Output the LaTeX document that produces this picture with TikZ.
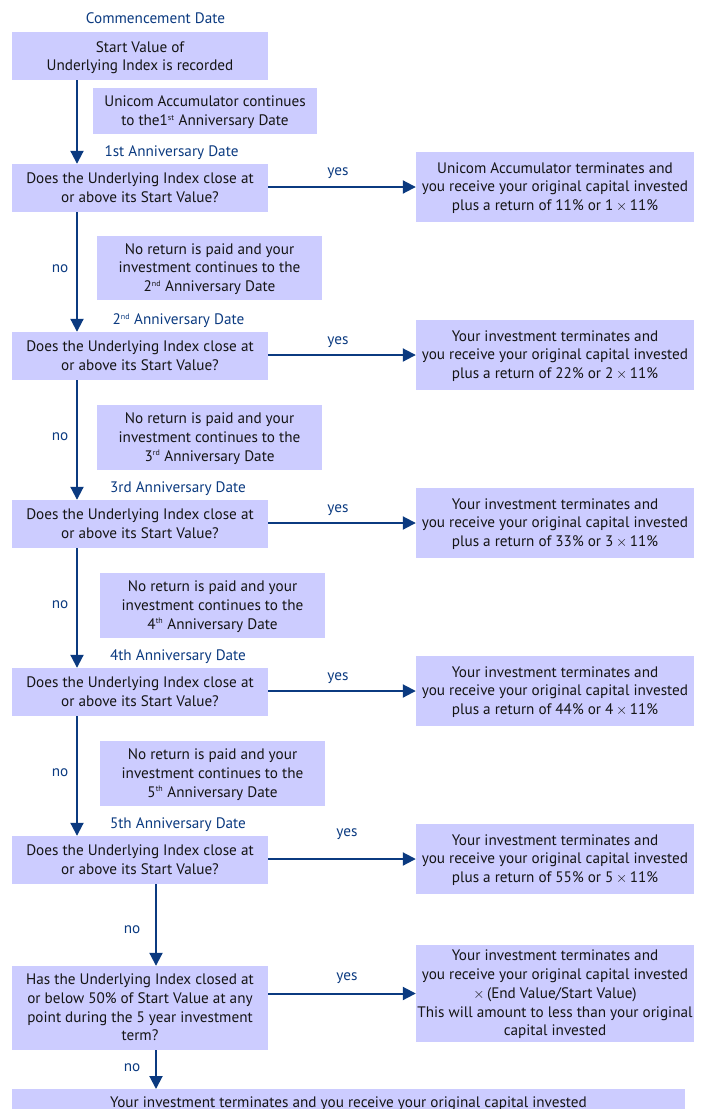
\documentclass[tikz,border=0pt]{standalone}
\usepackage{fontspec}
\setmainfont{PT Sans}
\usetikzlibrary{arrows.meta}
\definecolor{boxc}{HTML}{CCCCFF}
\definecolor{navy}{HTML}{0B3A80}
\definecolor{ink}{HTML}{151515}
\newcommand{\sps}[1]{\textsuperscript{\footnotesize #1}}
\newcommand{\tms}{\,$\times$\,}
\tikzset{
  bx/.style={fill=boxc, inner sep=0pt, align=center, text=ink, font=\fontsize{15.2}{18.7}\selectfont,
    text depth=1pt},
  bxlow/.style={bx, text depth=-2.5pt},
  lab/.style={text=navy, inner sep=0pt, font=\fontsize{15.2}{17}\selectfont},
  arr/.style={draw=navy, line width=2pt, -{Triangle[width=13pt,length=13pt]}},
}
\begin{document}
\begin{tikzpicture}[x=1pt,y=-1pt]
\useasboundingbox (0,0) rectangle (707,1109);
\begin{scope}
\clip (0,0) rectangle (707,1109);
% column coordinates
\coordinate (vx) at (77,0);
\coordinate (wx) at (156,0);

\node[lab] (l0) at (155.5,18) {Commencement Date};
\node[bxlow, minimum width=256pt, minimum height=48pt] (b0) at (140,56) {Start Value of\\Underlying Index is recorded};
\node[bx, minimum width=224pt, minimum height=46pt] (s0) at (205,111) {Unicom Accumulator continues\\to the1\sps{st} Anniversary Date};

% 1
\node[lab] (l1) at (171.5,153) {1st Anniversary Date};
\node[bx, minimum width=256pt, minimum height=48pt] (d1) at (140,188) {Does the Underlying Index close at\\or above its Start Value?};
\node[bx, minimum width=278pt, minimum height=70pt] (r1) at (555,187) {Unicom Accumulator terminates and\\you receive your original capital invested\\plus a return of 11\% or 1\tms11\%};
\node[lab] (y1) at (338,173) {yes};
\node[lab] (n1) at (60,269) {no};
\node[bx, minimum width=225pt, minimum height=64pt] (s1) at (209.5,268) {No return is paid and your\\investment continues to the\\2\sps{nd} Anniversary Date};

% 2
\node[lab] (l2) at (178.5,321) {2\sps{nd} Anniversary Date};
\node[bx, minimum width=256pt, minimum height=48pt] (d2) at (140,356) {Does the Underlying Index close at\\or above its Start Value?};
\node[bx, minimum width=278pt, minimum height=70pt] (r2) at (555,355) {Your investment terminates and\\you receive your original capital invested\\plus a return of 22\% or 2\tms11\%};
\node[lab] (y2) at (338,342) {yes};
\node[lab] (n2) at (60,437) {no};
\node[bx, minimum width=225pt, minimum height=65pt] (s2) at (209.5,437.5) {No return is paid and your\\investment continues to the\\3\sps{rd} Anniversary Date};

% 3
\node[lab] (l3) at (178,489) {3rd Anniversary Date};
\node[bx, minimum width=256pt, minimum height=48pt] (d3) at (140,524) {Does the Underlying Index close at\\or above its Start Value?};
\node[bx, minimum width=278pt, minimum height=70pt] (r3) at (555,523) {Your investment terminates and\\you receive your original capital invested\\plus a return of 33\% or 3\tms11\%};
\node[lab] (y3) at (338,510) {yes};
\node[lab] (n3) at (60,605) {no};
\node[bx, minimum width=225pt, minimum height=65pt] (s3) at (212.5,605.5) {No return is paid and your\\investment continues to the\\4\sps{th} Anniversary Date};

% 4
\node[lab] (l4) at (178,657) {4th Anniversary Date};
\node[bx, minimum width=256pt, minimum height=48pt] (d4) at (140,692) {Does the Underlying Index close at\\or above its Start Value?};
\node[bx, minimum width=278pt, minimum height=70pt] (r4) at (555,691) {Your investment terminates and\\you receive your original capital invested\\plus a return of 44\% or 4\tms11\%};
\node[lab] (y4) at (338,678) {yes};
\node[lab] (n4) at (60,773) {no};
\node[bx, minimum width=225pt, minimum height=65pt] (s4) at (212.5,773.5) {No return is paid and your\\investment continues to the\\5\sps{th} Anniversary Date};

% 5
\node[lab] (l5) at (178,825) {5th Anniversary Date};
\node[bx, minimum width=256pt, minimum height=48pt] (d5) at (140,860) {Does the Underlying Index close at\\or above its Start Value?};
\node[bx, minimum width=278pt, minimum height=70pt] (r5) at (555,859) {Your investment terminates and\\you receive your original capital invested\\plus a return of 55\% or 5\tms11\%};
\node[lab] (y5) at (347,834) {yes};
\node[lab] (n5) at (132,930) {no};

% 6
\node[bx, minimum width=256pt, minimum height=84pt] (d6) at (140,1008) {Has the Underlying Index closed at\\or below 50\% of Start Value at any\\point during the 5 year investment\\term?};
\node[bx, minimum width=278pt, minimum height=97pt] (r6) at (555,993.5) {Your investment terminates and\\you receive your original capital invested\\$\times$\,(End Value/Start Value)\\This will amount to less than your original\\capital invested};
\node[lab] (y6) at (347,978) {yes};
\node[lab] (n6) at (132,1068) {no};

\node[fill=boxc, inner sep=0pt, text=ink, font=\fontsize{15.2}{18.7}\selectfont, minimum width=673pt, minimum height=44pt, anchor=north, text depth=30pt] (bt) at (348.5,1089) {\raisebox{-11pt}{Your investment terminates and you receive your original capital invested}};

% connectors
\draw[arr] (b0.south -| vx) -- (d1.north -| vx);
\draw[arr] (d1.south -| vx) -- (d2.north -| vx);
\draw[arr] (d2.south -| vx) -- (d3.north -| vx);
\draw[arr] (d3.south -| vx) -- (d4.north -| vx);
\draw[arr] (d4.south -| vx) -- (d5.north -| vx);
\draw[arr] (d5.south -| wx) -- (d6.north -| wx);
\draw[arr] (d6.south -| wx) -- (bt.north -| wx);
\draw[arr] (d1.east |- r1.west) -- (r1.west);
\draw[arr] (d2.east |- r2.west) -- (r2.west);
\draw[arr] (d3.east |- r3.west) -- (r3.west);
\draw[arr] (d4.east |- r4.west) -- (r4.west);
\draw[arr] (d5.east |- r5.west) -- (r5.west);
\draw[arr] (d6.east |- r6.west) -- (r6.west);
\end{scope}
\end{tikzpicture}
\end{document}
